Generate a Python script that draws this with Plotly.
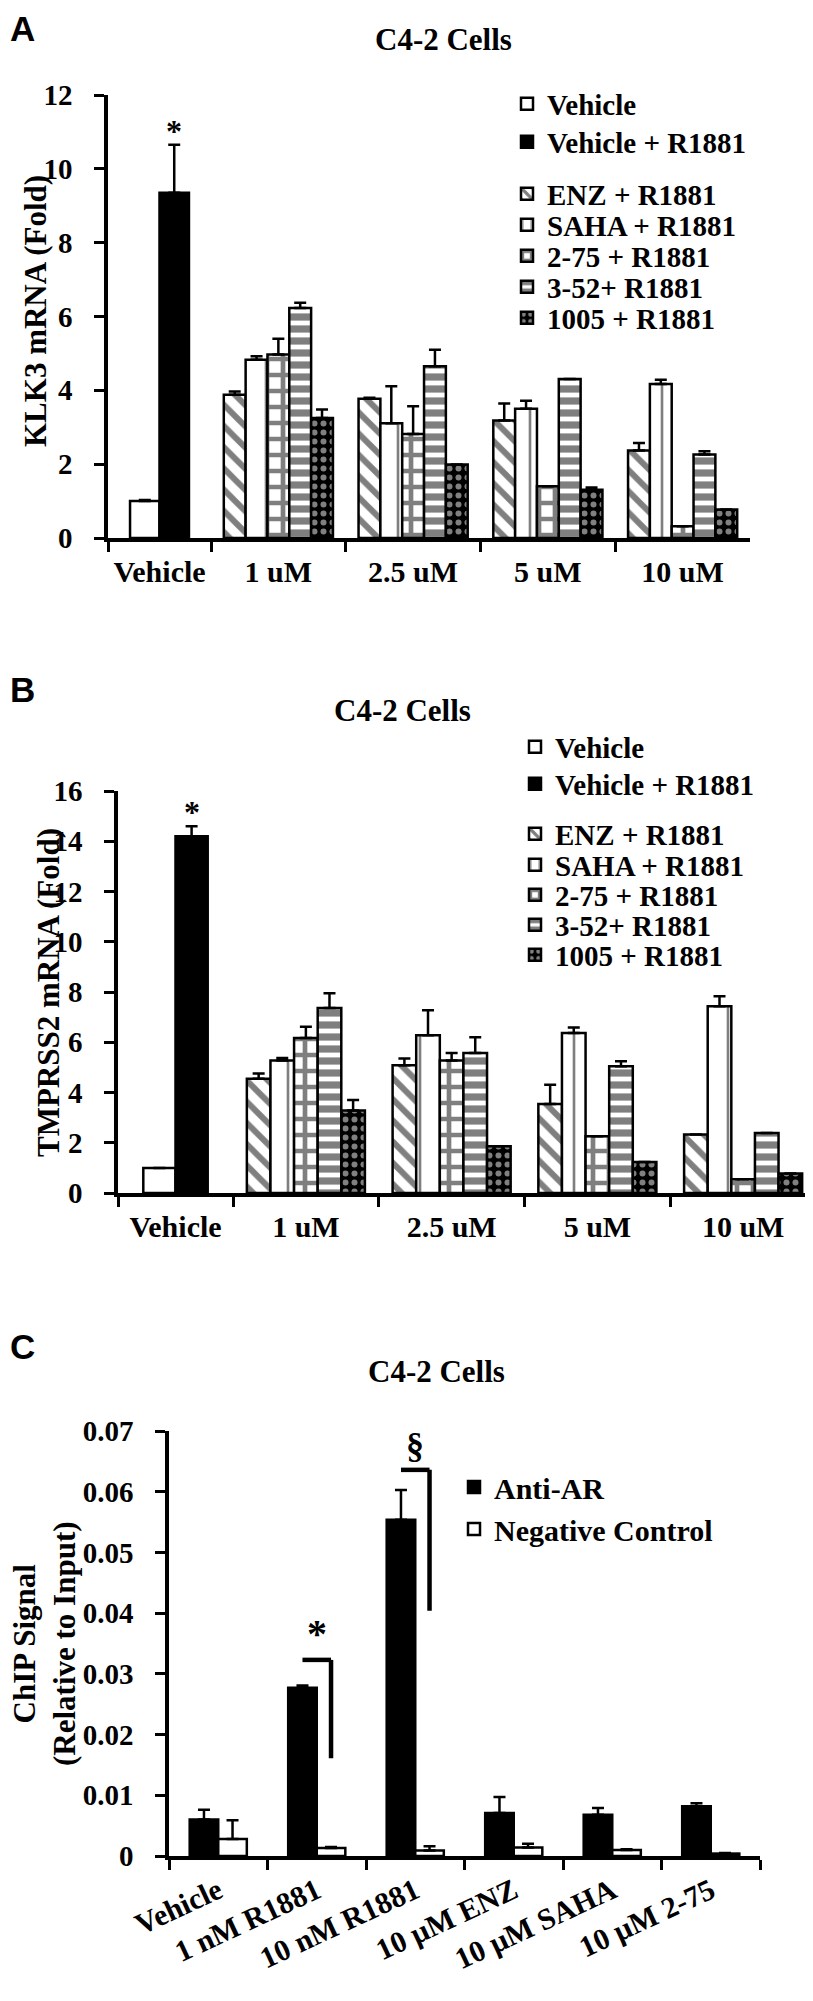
import plotly.graph_objects as go

W, H = 813, 2001

# ---------------- data ----------------
series_names = ["ENZ + R1881", "SAHA + R1881", "2-75 + R1881", "3-52+ R1881", "1005 + R1881"]
conc_labels = ["1 uM", "2.5 uM", "5 uM", "10 uM"]
veh_labels = ["Vehicle"]

# Panel A - KLK3 mRNA (fold)
klk3_vehicle = [1.0]
klk3_vehicle_err = [0.03]
klk3_r1881 = [9.35]
klk3_r1881_err = [1.3]
klk3_enz = [3.88, 3.77, 3.18, 2.37]
klk3_enz_err = [0.09, 0.03, 0.46, 0.20]
klk3_saha = [4.83, 3.11, 3.50, 4.17]
klk3_saha_err = [0.09, 1.00, 0.22, 0.12]
klk3_275 = [4.97, 2.82, 1.40, 0.32]
klk3_275_err = [0.43, 0.75, 0.0, 0.0]
klk3_352 = [6.23, 4.65, 4.31, 2.26]
klk3_352_err = [0.14, 0.45, 0.0, 0.09]
klk3_1005 = [3.25, 1.99, 1.31, 0.77]
klk3_1005_err = [0.23, 0.0, 0.06, 0.0]

# Panel B - TMPRSS2 mRNA (fold)
tmp_vehicle = [1.0]
tmp_vehicle_err = [0.0]
tmp_r1881 = [14.2]
tmp_r1881_err = [0.4]
tmp_enz = [4.55, 5.08, 3.54, 2.33]
tmp_enz_err = [0.21, 0.27, 0.77, 0.0]
tmp_saha = [5.27, 6.28, 6.37, 7.43]
tmp_saha_err = [0.10, 0.99, 0.22, 0.40]
tmp_275 = [6.17, 5.27, 2.26, 0.55]
tmp_275_err = [0.45, 0.30, 0.0, 0.0]
tmp_352 = [7.36, 5.57, 5.04, 2.39]
tmp_352_err = [0.59, 0.63, 0.20, 0.0]
tmp_1005 = [3.28, 1.86, 1.23, 0.78]
tmp_1005_err = [0.42, 0.0, 0.0, 0.0]

# Panel C - ChIP signal
chip_labels = ["Vehicle", "1 nM R1881", "10 nM R1881", "10 \u00b5M ENZ", "10 \u00b5M SAHA", "10 \u00b5M 2-75"]
chip_ar = [0.0060, 0.0277, 0.0554, 0.0071, 0.0068, 0.0082]
chip_ar_err = [0.0016, 0.0004, 0.0049, 0.0026, 0.0011, 0.0005]
chip_neg = [0.0028, 0.0013, 0.0009, 0.0014, 0.0010, 0.0004]
chip_neg_err = [0.0031, 0.0002, 0.0007, 0.0006, 0.0001, 0.0001]

# ---------------- styles ----------------
SERIF = "Liberation Serif"
LINE = dict(color="black", width=2.5)

def pat(shape, fg, bg, size, sol):
    return dict(shape=shape, fgcolor=fg, bgcolor=bg, size=size, solidity=sol)

PATTERNS = {
    "ENZ + R1881": ("white", pat("\\", "black", "white", 15, 0.4)),
    "SAHA + R1881": ("white", pat("|", "black", "white", 22, 0.12)),
    "2-75 + R1881": ("white", pat("+", "black", "white", 16, 0.5)),
    "3-52+ R1881": ("white", pat("-", "black", "white", 12, 0.6)),
    "1005 + R1881": ("black", pat(".", "white", "black", 9, 0.35)),
}

def px_x(p):
    return p / W

def px_y(p):
    return 1 - p / H

def err(vals):
    return dict(type="data", symmetric=False, array=vals, arrayminus=[0] * len(vals),
                color="black", thickness=2.5, width=6)

fig = go.Figure()

# vehicle bar width (category units) for A / B, bar width for C
VW_A = 0.286
VW_B = 0.28
CW = 0.29

def add_panel(xv, xc, y, veh, veh_e, r18, r18_e, series, vw, legends):
    fig.add_trace(go.Bar(x=veh_labels, y=veh, name="Vehicle", xaxis=xv, yaxis=y,
                         marker=dict(color="white", line=LINE), width=vw, offset=-vw,
                         error_y=err(veh_e), legend=legends[0]))
    fig.add_trace(go.Bar(x=veh_labels, y=r18, name="Vehicle + R1881", xaxis=xv, yaxis=y,
                         marker=dict(color="black", line=LINE), width=vw, offset=0,
                         error_y=err(r18_e), legend=legends[1]))
    for i, (name, vals, errs) in enumerate(series):
        color, p = PATTERNS[name]
        fig.add_trace(go.Bar(x=conc_labels, y=vals, name=name, xaxis=xc, yaxis=y,
                             marker=dict(color=color, pattern=p, line=LINE),
                             error_y=err(errs), legend=legends[i + 2]))

add_panel("x", "x2", "y", klk3_vehicle, klk3_vehicle_err, klk3_r1881, klk3_r1881_err,
          list(zip(series_names, [klk3_enz, klk3_saha, klk3_275, klk3_352, klk3_1005],
                   [klk3_enz_err, klk3_saha_err, klk3_275_err, klk3_352_err, klk3_1005_err])),
          VW_A, ["legend", "legend2", "legend3", "legend4", "legend5", "legend6", "legend7"])
add_panel("x3", "x4", "y2", tmp_vehicle, tmp_vehicle_err, tmp_r1881, tmp_r1881_err,
          list(zip(series_names, [tmp_enz, tmp_saha, tmp_275, tmp_352, tmp_1005],
                   [tmp_enz_err, tmp_saha_err, tmp_275_err, tmp_352_err, tmp_1005_err])),
          VW_B, ["legend8", "legend9", "legend10", "legend11", "legend12", "legend13", "legend14"])

fig.add_trace(go.Bar(x=chip_labels, y=chip_ar, name="Anti-AR", xaxis="x5", yaxis="y3",
                     marker=dict(color="black", line=LINE), width=CW, offset=-CW,
                     error_y=err(chip_ar_err), legend="legend15"))
fig.add_trace(go.Bar(x=chip_labels, y=chip_neg, name="Negative Control", xaxis="x5", yaxis="y3",
                     marker=dict(color="white", line=LINE), width=CW, offset=0,
                     error_y=err(chip_neg_err), legend="legend15"))

# ---------------- axes ----------------
def xax(d0, d1, anchor, **kw):
    a = dict(domain=[px_x(d0), px_x(d1)], anchor=anchor, type="category",
             showline=True, linecolor="black", linewidth=3.5, ticks="outside",
             tickson="boundaries", ticklen=10, tickwidth=3, tickcolor="black",
             showgrid=False, zeroline=False, tickfont=dict(size=30), tickangle=0,
             ticklabelstandoff=4, fixedrange=True, automargin=False)
    a.update(kw)
    return a

def yax(top, bottom, anchor, rng, dtick):
    return dict(domain=[px_y(bottom), px_y(top)], anchor=anchor, range=rng, dtick=dtick,
                showline=True, linecolor="black", linewidth=3.5, ticks="outside",
                ticklen=10, tickwidth=3, tickcolor="black", showgrid=False,
                zeroline=False, tickfont=dict(size=29), ticklabelstandoff=16,
                automargin=False)

layout = dict(
    width=W, height=H, margin=dict(l=0, r=0, t=0, b=0, autoexpand=False),
    paper_bgcolor="white", plot_bgcolor="white", showlegend=True,
    font=dict(family=SERIF, size=30, color="black", weight="bold"),
    barmode="group", bargap=0.19,
    xaxis=xax(100, 203, "y"), xaxis2=xax(203, 742, "y"),
    yaxis=yax(87, 530, "x", [0, 12], 2),
    xaxis3=xax(110, 225, "y2"), xaxis4=xax(225, 808, "y2"),
    yaxis2=yax(783, 1185, "x3", [0, 16], 2),
    xaxis5=xax(161, 752, "y3", tickangle=-25, ticklabelstandoff=2),
    yaxis3=yax(1423, 1848, "x5", [0, 0.07], 0.01),
)

# per-item legends so that spacing follows the figure
LEG_FONT = dict(family=SERIF, size=29, color="black", weight="bold")
leg_a_y = [96, 134, 186, 217, 248, 279, 310]
leg_b_y = [739, 776, 826, 857, 887, 917, 947]
keys = ["legend"] + ["legend%d" % i for i in range(2, 15)]
for k, yy in zip(keys, leg_a_y + leg_b_y):
    left = 499 if yy < 600 else 507
    layout[k] = dict(x=px_x(left), y=px_y(yy), xanchor="left", yanchor="middle",
                     bgcolor="rgba(0,0,0,0)", font=LEG_FONT, borderwidth=0)
layout["legend15"] = dict(x=px_x(446), y=px_y(1500), xanchor="left", yanchor="middle",
                          bgcolor="rgba(0,0,0,0)",
                          font=dict(family=SERIF, size=30, color="black", weight="bold"),
                          borderwidth=0)

fig.update_layout(**layout)

# ---------------- text ----------------
ann = []
for letter, yy in [("A", 20), ("B", 681), ("C", 1338)]:
    ann.append(dict(text=letter, x=px_x(0), y=px_y(yy), xref="paper", yref="paper",
                    xanchor="left", yanchor="middle", showarrow=False,
                    font=dict(family="Liberation Sans", size=35, weight="bold")))
for xx, yy in [(435, 31), (394, 703), (428, 1363)]:
    ann.append(dict(text="C4-2 Cells", x=px_x(xx), y=px_y(yy), xref="paper", yref="paper",
                    xanchor="center", yanchor="middle", showarrow=False, font=dict(size=31)))
for txt, xx, yy in [("KLK3 mRNA (Fold)", 27, 303), ("TMPRSS2 mRNA (Fold)", 40, 985),
                    ("ChIP Signal<br>(Relative to Input)", 36, 1636)]:
    ann.append(dict(text=txt, x=px_x(xx), y=px_y(yy), xref="paper", yref="paper",
                    xanchor="center", yanchor="middle",
                    textangle=-90, showarrow=False, font=dict(size=31)))

# significance marks
ann.append(dict(text="*", x=VW_A / 2, y=klk3_r1881[0] + klk3_r1881_err[0], xref="x", yref="y",
                yanchor="bottom", yshift=-6, showarrow=False, font=dict(size=32)))
ann.append(dict(text="*", x=VW_B / 2, y=tmp_r1881[0] + tmp_r1881_err[0], xref="x3", yref="y2",
                yanchor="bottom", yshift=-6, showarrow=False, font=dict(size=32)))

bracket_top = [0.0323, 0.0636]
bracket_low = [0.0161, 0.0404]
marks = ["*", "\u00a7"]
shapes = []
for i, (top, low, m) in enumerate(zip(bracket_top, bracket_low, marks)):
    idx = i + 1
    shapes.append(dict(type="line", xref="x5", yref="y3", x0=idx - CW / 2, x1=idx + CW / 2,
                       y0=top, y1=top, line=dict(color="black", width=4.5)))
    shapes.append(dict(type="line", xref="x5", yref="y3", x0=idx + CW / 2, x1=idx + CW / 2,
                       y0=top, y1=low, line=dict(color="black", width=4.5)))
    ann.append(dict(text=m, x=idx, y=top, xref="x5", yref="y3", yanchor="bottom",
                    yshift=2, showarrow=False, font=dict(size=40 if m == "*" else 36)))

fig.update_layout(annotations=ann, shapes=shapes)

fig.write_html("out.html")
